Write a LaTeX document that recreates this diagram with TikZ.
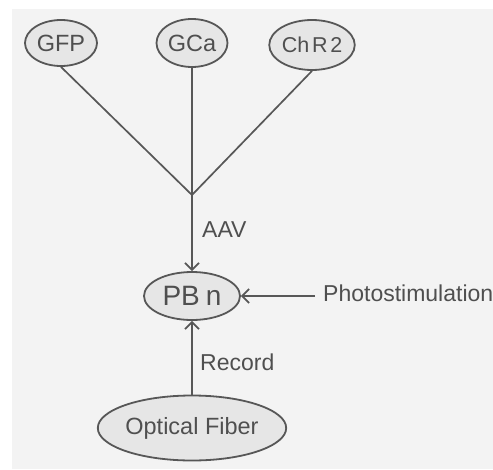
\documentclass[tikz,border=0pt]{standalone}
\usepackage{fontspec}
\setmainfont{Liberation Sans}
\usetikzlibrary{shapes.geometric,arrows.meta}
\definecolor{bgc}{HTML}{F3F3F3}
\definecolor{fillc}{HTML}{E6E6E6}
\definecolor{linec}{HTML}{575757}
\definecolor{textc}{HTML}{4F4F4F}
\tikzset{
  oval/.style={ellipse, draw=linec, fill=fillc, line width=1.8pt, inner sep=0pt, text=textc},
  lbl/.style={text=textc, font=\fontsize{23}{27}\selectfont, inner sep=0pt},
  conn/.style={draw=linec, line width=1.7pt},
  arr/.style={conn, -{Straight Barb[length=7pt,width=14pt,line width=1.7pt]}}
}
\begin{document}
\begin{tikzpicture}[x=1pt,y=-1pt]
\useasboundingbox (0,0) rectangle (493,469);
\fill[bgc] (12,9) rectangle (493,469);
\node[oval, minimum width=72pt, minimum height=46pt, font=\fontsize{23.5}{27}\selectfont] (GFP) at (61,43) {GFP};
\node[oval, minimum width=71pt, minimum height=48pt, font=\fontsize{23.5}{27}\selectfont] (GCa) at (192,43) {GCa};
\node[oval, minimum width=72pt, minimum height=50pt, font=\fontsize{21.5}{26}\selectfont] (ChR) at (312,45) {Ch\kern3pt R\kern2.5pt 2};
\node[oval, minimum width=96pt, minimum height=48pt, font=\fontsize{28}{32}\selectfont] (PBn) at (192,296) {PB\kern6pt n};
\node[oval, minimum width=169pt, minimum height=65pt, font=\fontsize{23.5}{28}\selectfont] (OF) at (192,428) {Optical Fiber};
\coordinate (J) at (192,195);
\node[lbl, anchor=west] (PS) at (323,293) {Photostimulation};
\node[lbl, anchor=west] (AAV) at (202,230) {AAV};
\node[lbl, anchor=west] (REC) at (200,362) {Record};
\coordinate (PSs) at (315,296);
\draw[conn] (GFP.south) -- (J);
\draw[conn] (GCa.south) -- (J);
\draw[conn] (ChR.south) -- (J);
\draw[arr] (J) -- (PBn.north);
\draw[arr] (OF.north) -- (PBn.south);
\draw[arr] (PSs) -- (PBn.east);
\end{tikzpicture}
\end{document}
